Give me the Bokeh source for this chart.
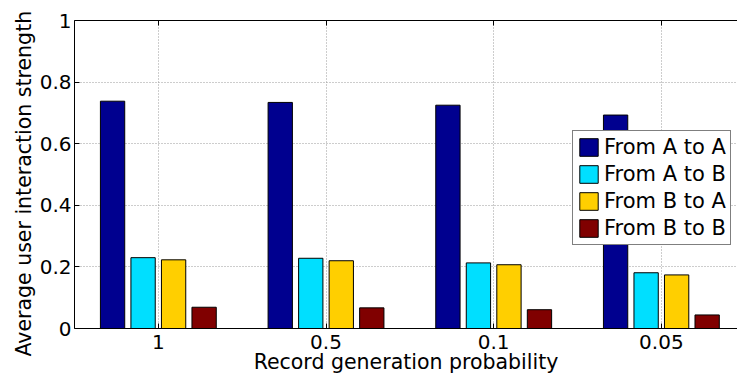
from bokeh.plotting import figure
from bokeh.models import (ColumnDataSource, FixedTicker, LinearAxis, Legend,
                          LegendItem, Range1d, Title)
from bokeh.transform import dodge
from bokeh.embed import file_html
from bokeh.resources import INLINE

# ---- data ----
categories = ["1", "0.5", "0.1", "0.05"]
positions = [1, 2, 3, 4]
a_to_a = [0.738, 0.734, 0.725, 0.693]
a_to_b = [0.230, 0.228, 0.213, 0.181]
b_to_a = [0.223, 0.220, 0.207, 0.174]
b_to_b = [0.069, 0.067, 0.061, 0.044]
series_names = ["From A to A", "From A to B", "From B to A", "From B to B"]
y_ticks = [0, 0.2, 0.4, 0.6, 0.8, 1]
y_tick_labels = ["0", "0.2", "0.4", "0.6", "0.8", "1"]

colors = ["#00008F", "#00DFFF", "#FFCF00", "#800000"]
FONT = "DejaVu Sans"

src = ColumnDataSource(dict(x=positions, aa=a_to_a, ab=a_to_b, ba=b_to_a, bb=b_to_b))

p = figure(width=737, height=380, x_range=Range1d(0.5, 4.454), y_range=Range1d(0, 1),
           output_backend="svg", toolbar_location=None,
           min_border_left=74, min_border_right=0, min_border_top=20, min_border_bottom=52)
p.outline_line_color = None
p.background_fill_color = "white"
p.border_fill_color = "white"

offsets = [-0.273, -0.091, 0.091, 0.273]
cols = ["aa", "ab", "ba", "bb"]
renderers = []
for off, col, c in zip(offsets, cols, colors):
    r = p.vbar(x=dodge("x", off), top=col, width=0.145, source=src,
               fill_color=c, line_color="black", line_width=1)
    renderers.append(r)

# axes
xa = p.xaxis[0]
xa.ticker = FixedTicker(ticks=positions)
xa.major_label_overrides = {pos: lab for pos, lab in zip(positions, categories)}
xa.axis_label = "Record generation probability"
ya = p.yaxis[0]
ya.ticker = FixedTicker(ticks=y_ticks)
ya.major_label_overrides = {t: lab for t, lab in zip(y_ticks, y_tick_labels)}

for ax in (xa, ya):
    ax.major_tick_in = 5
    ax.major_tick_out = 0
    ax.minor_tick_line_color = None
    ax.axis_line_color = "black"
    ax.major_tick_line_color = "black"
    ax.major_label_text_font = FONT
    ax.major_label_text_font_size = "20px"
    ax.major_label_text_color = "black"
    ax.axis_label_text_font = FONT
    ax.axis_label_text_font_size = "20.5px"
    ax.axis_label_text_font_style = "normal"
    ax.axis_label_text_color = "black"
ya.major_label_standoff = 3
xa.major_label_standoff = 6
xa.axis_label_standoff = -2

ytitle = Title(text="Average user interaction strength", align="left", offset=-28,
               text_font=FONT, text_font_size="20.5px", text_font_style="normal",
               text_color="black", standoff=1)
p.add_layout(ytitle, "left")

# top border with inward ticks (minor ticks only, so no labels)
top = LinearAxis(ticker=FixedTicker(ticks=[], minor_ticks=positions),
                 major_tick_line_color=None, minor_tick_in=5, minor_tick_out=0,
                 minor_tick_line_color="black", axis_line_color="black",
                 major_label_text_font_size="0px", major_label_standoff=0)
p.add_layout(top, "above")

# grid
p.xgrid.ticker = FixedTicker(ticks=positions)
p.ygrid.ticker = FixedTicker(ticks=y_ticks)
for g in (p.xgrid, p.ygrid):
    g.grid_line_color = "#9a9a9a"
    g.grid_line_dash = "1 2"
    g.grid_line_width = 1

legend = Legend(items=[LegendItem(label=n, renderers=[r]) for n, r in zip(series_names, renderers)],
                location=(498, 83), padding=4, margin=0, spacing=3,
                glyph_width=23, glyph_height=22, label_height=22, label_standoff=4,
                label_text_font=FONT, label_text_font_size="21px", label_text_color="black",
                border_line_color="black", border_line_width=1,
                background_fill_color="white", background_fill_alpha=1)
p.add_layout(legend)

open("out.html", "w").write(file_html(p, INLINE))
